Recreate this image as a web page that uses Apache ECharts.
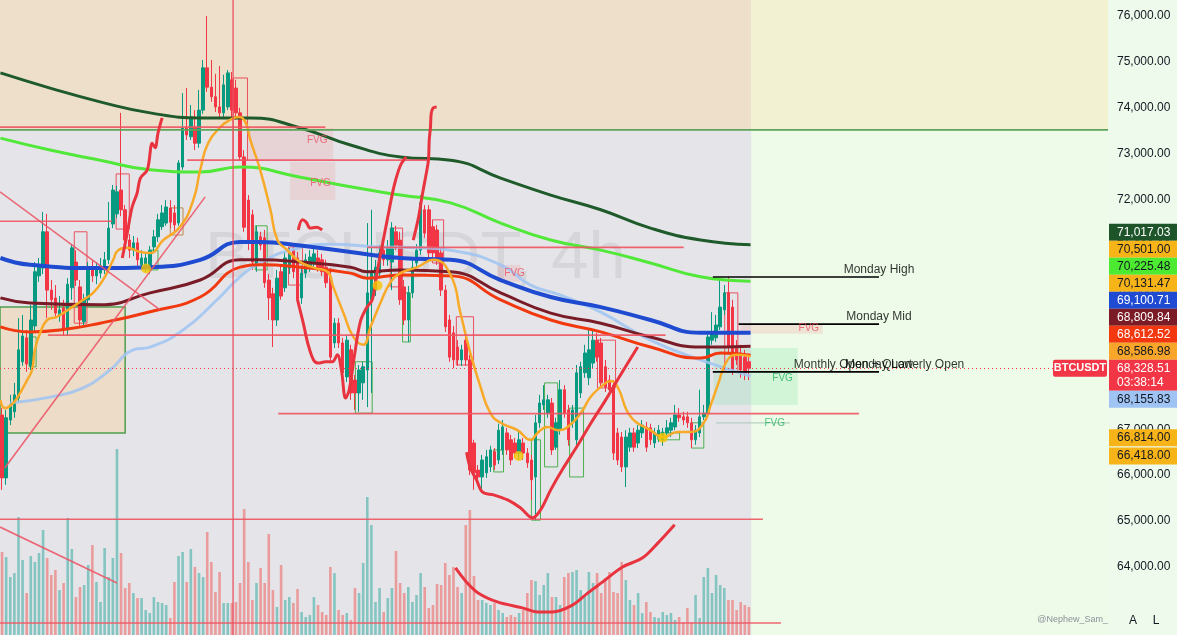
<!DOCTYPE html>
<html><head><meta charset="utf-8">
<script src="https://cdn.jsdelivr.net/npm/echarts@6/dist/echarts.min.js"></script>
<style>html,body{margin:0;padding:0;background:#eefaeb;}#c{width:1177px;height:635px;}</style>
</head><body><div id="c"></div>
<script>
// ---------------- DATA ----------------
// candles: [open, close, low, high]  (BTCUSDT 4h)
const candles = [
[67310,65940,65680,67460],[65940,67250,65790,67420],[67200,67530,67090,67750],[67380,67750,67250,68010],
[67680,68730,67590,69420],[68470,69030,68380,69490],[68990,68420,68250,69160],[68380,69380,68290,69710],
[69250,70430,69120,70640],[70340,70560,70210,70730],[70510,71300,70380,71730],[71300,70030,69420,71690],
[70030,69820,69600,70250],[69860,69530,69420,70140],[69470,69600,69340,69900],[69640,69160,69030,69820],
[69160,70160,69030,70290],[70080,70950,69820,71030],[70640,70250,70120,70900],[70100,69380,69250,70250],
[69340,69820,69210,69950],[69820,70510,69680,70640],[70510,70340,70210,70690],[70340,70510,70160,70640],
[70400,70560,70290,70730],[70470,70690,70380,70860],[70690,71380,70600,71950],[71470,72210,71380,72320],
[71690,72170,71600,72300],[72210,71780,71640,73890],[71780,71120,70990,71880],[71120,70900,70730,71250],
[70900,71060,70770,71210],[71060,70690,70560,71170],[70580,70730,70470,70900],[70510,70730,70430,70820],
[70470,70900,70380,70990],[70970,71190,70860,71340],[71190,71560,71080,71690],[71410,71710,71340,71880],
[71490,71840,71430,71990],[71820,71510,71380,71990],[71710,71450,71300,71880],[71490,72800,71430,72860],
[72710,73560,72650,74320],[73560,73410,73300,74430],[73370,73800,73300,74060],[73580,73230,73080,73950],
[73230,73950,73130,74390],[73950,74870,73870,75040],[74870,74450,74350,76000],[74450,74240,74130,75040],
[74240,74020,73910,74740],[74020,73890,73780,74910],[73890,74500,73780,74720],[74020,74760,73950,74820],
[74610,73950,73780,74780],[74430,73890,73740,74610],[73890,72930,72860,74000],[72930,71400,71300,73080],
[71990,71060,70900,72100],[71670,70640,70470,71780],[70560,71300,70430,71430],[71190,71010,70900,71300],
[71170,70190,70080,71340],[70250,69860,69380,70380],[69950,69380,68790,70080],[69380,70290,69250,70470],
[70430,69900,69820,70560],[70080,70730,69990,70860],[70510,70800,70380,70950],[70900,70430,70290,71030],
[70730,69820,69730,70860],[69860,70400,69730,70560],[70400,70690,70290,70820],[70510,70750,70430,70900],
[70600,70820,70510,70990],[70730,70510,70430,70900],[70690,70430,70340,70820],[70530,70190,70080,70690],
[70320,68570,68470,70510],[68880,69310,68770,69420],[69310,68880,68770,69420],[68880,68230,68120,68990],
[68140,68940,68030,69050],[68730,67790,67640,68840],[68070,67790,67420,68180],[67790,68290,67380,68400],
[68010,68360,67640,68470],[68290,69970,67480,71490],[69820,70400,67790,71780],[70030,70530,69900,70690],
[70400,70840,70290,71010],[70900,70690,70560,71030],[70690,70970,70560,71120],[70640,71380,70030,71510],
[71300,71010,70900,71430],[71120,69820,69710,71300],[70100,69380,69270,70250],[69380,69970,68900,70120],
[69970,70530,69860,70690],[70620,70900,70510,71030],[70900,71930,70800,72100],[71780,71270,71170,71880],
[71780,70840,70730,71880],[71410,70840,70690,71560],[71340,70690,70580,71450],[70840,70030,69900,70950],
[70030,69230,69120,70140],[69380,68570,68470,69490],[69100,68510,68330,69250],[68790,68510,68380,68940],
[68510,68730,68380,68840],[68940,68510,68380,69050],[68510,66110,66000,68620],[66700,66050,65680,66770],
[66110,65960,65790,66220],[65960,66330,65630,66440],[66050,66400,65940,66550],[66180,66550,66070,66640],
[66510,66220,66110,66590],[66330,66980,66240,67120],[66550,67050,66440,67200],[66920,66550,66440,67030],
[66770,66330,66220,66880],[66700,66480,66370,66810],[66480,66770,66330,66940],[66700,66480,66330,66810],
[66480,66270,66160,66590],[66330,65900,65460,66440],[65960,67140,65020,67310],[67140,67570,67030,67750],
[67530,67640,67420,67960],[67350,67640,67250,67750],[67570,66550,66440,67680],[66610,67140,66550,67250],
[66980,67860,66880,68070],[67860,67350,67250,67960],[67420,66770,66640,67530],[67140,67420,67030,67530],
[66770,68230,66660,68400],[67790,68360,67680,68470],[68230,68660,68120,68840],[68120,68730,67960,69160],
[68440,68940,68330,69160],[68940,68570,68470,69100],[68880,68010,67900,68990],[68360,67920,67810,68510],
[68070,67860,67720,68180],[67960,66480,66330,68070],[66920,66330,66220,67030],[66830,66180,66070,66940],
[66180,66830,65740,66980],[66610,66920,66510,67030],[66920,66610,66510,67030],[66700,66980,66590,67090],
[66920,67090,66810,67200],[67050,66610,66510,67160],[67030,66770,66660,67120],[66700,66920,66590,67030],
[66830,66980,66720,67090],[66770,66940,66640,67030],[66920,67030,66810,67200],[66980,67140,66830,67250],
[67050,67310,66980,67530],[67310,67250,67160,67460],[67270,67200,67090,67380],[67270,67140,67030,67380],
[67140,66770,66590,67250],[66770,66980,66660,67090],[66920,67270,66830,67860],[67270,67350,67200,67530],
[67350,69010,67250,69100],[68940,69100,68840,69550],[68990,69270,68900,69490],[69230,69660,69160,70250],
[69600,69970,69490,70140],[69970,68790,68680,70320],[69660,68290,68180,69820],[68790,68510,68400,68940],
[68660,68290,68120,68840],[68570,68230,68070,68730],[68470,68328.51,68070,68620]
];
const volumes = [
83,78,58,62,118,75,42,79,73,82,105,77,60,65,45,52,117,86,38,48,50,70,90,53,33,87,58,77,186,82,
47,52,42,37,37,25,22,38,33,32,30,17,53,79,83,53,86,68,62,58,103,73,43,63,32,32,32,33,52,126,
73,35,52,67,52,101,45,28,70,35,38,32,46,23,18,20,38,30,23,20,68,62,25,20,22,15,47,42,72,138,
110,33,47,23,37,47,84,52,42,48,33,40,62,48,27,30,51,50,72,60,68,48,42,110,125,59,35,35,32,30,
32,25,22,18,20,18,22,25,42,55,54,40,50,62,38,38,30,58,62,63,65,45,40,63,52,62,42,57,63,43,
42,73,55,35,30,42,22,33,23,18,17,23,20,22,15,18,13,27,13,40,17,58,67,42,60,50,47,35,35,25,
33,30,28
];
// moving averages: [bar index, price]
const maDarkGreen = [[-0.4,74760],[11.7,74430],[23.9,74130],[36.1,73890],[48.3,73780],[60.5,73780],[72.7,73560],[84.9,73190],[97.1,72930],[109.3,72860],[121.5,72470],[133.7,72100],[145.9,71780],[158,71380],[170.2,71120],[182.4,71017.03]];
const maLime = [[-0.4,73340],[11.7,73080],[23.9,72860],[36.1,72650],[48.3,72600],[58,72710],[72.7,72490],[84.9,72280],[97.1,72100],[109.3,71930],[121.5,71490],[133.7,71120],[145.9,70900],[158,70620],[170.2,70320],[182.4,70225.48]];
const maBlue = [[-0.4,70730],[6.8,70580],[23.9,70510],[36.1,70530],[48.3,70690],[58,71080],[62.9,71080],[72.7,71000],[84.9,70860],[97.1,70730],[109.3,70690],[121.5,70250],[133.7,69880],[145.9,69660],[158,69380],[170.2,69100],[182.4,69100.71]];
const maMaroon = [[-0.4,69860],[6.8,69750],[23.9,69710],[36.1,69970],[48.3,70250],[58,70690],[62.9,70690],[72.7,70640],[84.9,70530],[89,70430],[97.1,70470],[109.3,70430],[121.5,69970],[133.7,69530],[145.9,69310],[158,69010],[170.2,68790],[182.4,68809.84]];
const maRed = [[-0.4,69230],[6.8,69120],[14.1,69160],[23.9,69310],[36.1,69560],[48.3,69880],[58,70530],[62.9,70580],[72.7,70530],[84.9,70400],[89,70290],[97.1,70360],[109.3,70340],[121.5,69820],[133.7,69380],[145.9,69120],[158,68790],[170.2,68550],[175.1,68660],[182.4,68612.52]];
const maLightBlue = [[2,67570],[11.7,67700],[19.8,67900],[26.3,68290],[32,68730],[36.1,68790],[44.1,69160],[52.4,69820],[58,70320],[62.9,70620],[70.2,70900],[80,71030],[92.2,70970],[102,70950],[109.3,70900],[121.5,70580],[128.8,70140],[136.1,69920],[145.9,69550],[158,68940],[170.2,68510],[182.4,68155.83]];
const maOrange = [[-0.4,67640],[0.7,67460],[2.7,67570],[4.4,67790],[6.1,68070],[7.3,68290],[8,68730],[9.3,69100],[11,69380],[13.4,69450],[17.1,69660],[19.8,69820],[22.2,69970],[24.6,70250],[27.1,70690],[28.3,70900],[30.5,70950],[33.7,70860],[36.1,70840],[39.3,71120],[43.4,71410],[46.6,71990],[48.3,72650],[50.2,73230],[53.2,73580],[55.6,73740],[57.6,73800],[59.3,73690],[60.5,73300],[62.9,72650],[65.4,71780],[67.1,71120],[69.5,70900],[72.7,70640],[76.3,70510],[79.3,70430],[80.7,70100],[83.2,69530],[85.6,69010],[88,68840],[89.8,69230],[92.2,69750],[94.6,70190],[97.1,70400],[101.2,70530],[105.1,70690],[109.3,70360],[111.7,69530],[114.1,68660],[116.6,67920],[119,67350],[121.5,67140],[125.6,66980],[128.8,66770],[130.5,66920],[132.9,67050],[135.4,66980],[137.8,67050],[141,67350],[143.4,67700],[145.9,67920],[148.3,68050],[150,67920],[153.2,67270],[158,66980],[161.2,66830],[164.6,66940],[167.8,66940],[171,67140],[172.7,67530],[174.4,67960],[176.8,68510],[179.3,68620],[182.4,68586.98]];
// pivot dots
const pivotDots = [[35.1,70501.00],[91.5,70131.47],[125.9,66418.00],[161,66814.00]];
// hand drawn curves [bar index, price]
const drawCurveA = [[29.3,70730],[30.5,71270],[31.7,71840],[32.9,72140],[33.7,72470],[35.4,72650],[36.6,73230],[37.3,73130],[38,73450],[39,73780]];
const drawCurveB = [[72.2,71340],[73.2,71560],[74.1,71510],[75.1,71380],[76.6,71400],[78,71340]];
const drawCurveC = [[72,69820],[73.4,69310],[74.6,68840],[75.9,68510],[77.1,68440],[78.8,68470],[80.5,68470],[81.7,68620],[82.7,68290],[83.7,67680],[84.6,67860],[85.9,68620],[87.3,69340],[88.8,69640],[90.2,69820],[91.5,70470],[92.9,71120],[94.1,71670],[95.6,72320],[97.1,72750],[98.5,72930]];
const drawCurveD = [[100.2,71120],[101.5,71620],[102.4,72100],[103.2,72490],[103.9,72860],[104.1,73300],[104.4,73580],[104.6,73890],[105.1,74000],[105.9,74020]];
const drawCurveE = [[113.2,66500],[114.1,66160],[115.6,65900],[117.1,65630],[119.8,65570],[123.2,65460],[126.3,65290],[129.3,65070],[131.2,65240],[133.7,65680],[136.8,66160],[140.2,66640],[143.4,67120],[147.1,67640],[150.7,68180],[154.9,68790]];
const drawCurveF = [[110.5,63980],[113.2,63670],[116.1,63430],[120.7,63240],[126.8,63110],[130.5,63020],[134.1,63020],[139,63170],[142.7,63430],[146.3,63670],[151.2,64000],[156.1,64200],[159.8,64520],[163.9,64920]];
// trend lines [[x0,p0],[x1,p1]]
const trendLines = [[[-0.5,72170],[38.5,69600]],[[-0.5,64870],[28,63650]],[[0.7,66160],[49.5,72060]]];
// horizontal levels: [price, fromBar, toBar]
const redLevels = [[73580,-0.5,78.8],[72860,45.1,103.7],[71530,-0.5,26.8],[70960,89,166.1],[69050,11.2,161.7],[67340,67.3,208.8],[65040,-0.5,185.4],[62780,-0.5,189.8]];
const greenLevel = [73520,-0.5,269.5];
const verticalLineBar = 56.3;
// Monday / Monthly levels
const levelNames = ['Monday High','Monday Mid','Monday Low','Monthly Open + Quarterly Open'];
const levelPrices = [70316,69290,68250,68250];
const levelFrom = [173.2,179.5,173.2,173.2];
const levelTo = 213.7;
// order blocks: [bar0, priceTop, bar1, priceBottom]
const boxes = [[6.6,69010,8.3,68360],[27.8,72560,31,71360],[17.6,71300,20.7,69310],[36.1,70900,38,70470],[41,71820,44.1,71230],[56.3,74650,59.8,72860],[61.7,71430,64.6,70470],[69.8,70970,73.2,70140],[86.1,68470,90.2,67350],[94.6,71380,97.6,70100],[97.6,69970,99.5,68900],[104.9,71560,107.6,70620],[110.7,69450,114.9,68400],[119.8,66550,122.2,66070],[129,66770,131.2,65020],[132.2,68010,135.4,66180],[138.3,67460,141.7,65960],[145.1,68940,149.5,67900],[159.8,66920,165.1,66770],[168,67140,171,66590],[176.1,69970,179.3,68250]];
const boxKinds = ['g','r','r','g','b','r','g','r','g','r','g','r','r','g','g','g','g','r','g','g','r'];
const demandZone = [-0.5,69660,30,66920];
// FVG zones
const fvgBear = [[59.8,73560,80.7,72860],[70.2,72820,81.2,71990],[120.7,70580,126.3,70210],[180,69270,200,69080]];
const fvgBull = [[173.4,68770,193.9,67530]];
const fvgLabelsRed = [[76.8,73300],[77.6,72360],[124.9,70400],[196.6,69190]];
const fvgLabelsGreen = [[190.2,68120],[188.3,67140]];
const fvgThin = [[174,67140],[192,67140]];
// price scale
const priceTicks = [64000,65000,66000,67000,68000,69000,70000,71000,72000,73000,74000,75000,76000];
const lastPrice = 68328.51;
const countdown = '03:38:14';
const tagValues = [71017.03,70501.00,70225.48,70131.47,69100.71,68809.84,68612.52,68586.98,68328.51,68155.83,66814.00,66418.00];
const tagBg = ['#1d5429','#f7b418','#4cea30','#f7b418','#1f4bd3','#7a1b25','#f3380f','#f7a62a','#f23645','#9fc3f3','#f7b418','#f7b418'];
const tagFg = ['#ffffff','#131722','#131722','#131722','#ffffff','#ffffff','#ffffff','#131722','#ffffff','#131722','#131722','#131722'];
const LAST_TAG = 8;

// ---------------- CHART ----------------
const SLOTS = 270;
const categories = Array.from({length: SLOTS}, (_, i) => String(i));
const P_MIN = 62519, P_MAX = 76348;
const SPLIT_X = 182.6, SPLIT_P = 73520;
const FONT = "'Liberation Sans', Arial, sans-serif";
const chart = echarts.init(document.getElementById('c'));

function area(b, style){ return [{coord:[b[0],b[1]], itemStyle: style},{coord:[b[2],b[3]]}]; }
function line(data, color, width, z, smooth, extra){
  return Object.assign({type:'line', xAxisIndex:1, yAxisIndex:0, data, symbol:'none', smooth: smooth||false,
    lineStyle:{color, width}, z, silent:true, animation:false}, extra||{});
}
const boxColor = {g:'#4caf50', r:'#e8505e', b:'#c2884a'};
const HIDDEN = 'rgba(0,0,0,0)';

const series = [];
// background zones
series.push({type:'line', xAxisIndex:1, yAxisIndex:0, data:[], z:0, silent:true,
  markArea:{silent:true, data:[
    area([-0.5,P_MAX,SPLIT_X,SPLIT_P],{color:'#eedfca'}),
    area([SPLIT_X,P_MAX,269.5,SPLIT_P],{color:'#f2f2d3'}),
    area([-0.5,SPLIT_P,SPLIT_X,P_MIN],{color:'#e5e5e9'}),
    area([SPLIT_X,SPLIT_P,269.5,P_MIN],{color:'#edfbe8'}),
    area(demandZone,{color:'#ecdcc8', borderColor:'#4e9e4e', borderWidth:1.5}),
    ...fvgBear.map(b=>area(b,{color:'rgba(242,110,120,0.16)'})),
    ...fvgBull.map(b=>area(b,{color:'rgba(90,220,140,0.18)'}))
  ]}});
// volume
series.push({type:'bar', xAxisIndex:0, yAxisIndex:1, data: volumes, barWidth:2.6, z:1, silent:true,
  itemStyle:{color: p => { const c = candles[p.dataIndex]; return (c && c[1] >= c[0]) ? 'rgba(38,166,154,0.5)' : 'rgba(239,83,80,0.5)'; }}});
// candles
series.push({type:'candlestick', xAxisIndex:0, yAxisIndex:0, data: candles, barWidth:3, z:2, silent:true,
  itemStyle:{color:'#089981', color0:'#f23645', borderColor:'#089981', borderColor0:'#f23645', borderWidth:1},
  markLine:{silent:true, symbol:'none', label:{show:false}, lineStyle:{color:'#f23645', type:[1,3], width:1},
    data:[{yAxis:lastPrice}]}});
// boxes
series.push({type:'line', xAxisIndex:1, yAxisIndex:0, data:[], z:3, silent:true,
  markArea:{silent:true, data: boxes.map((b,k)=>area(b,{color:HIDDEN, borderColor: boxColor[boxKinds[k]], borderWidth:1}))}});
// moving averages
series.push(line(maLightBlue,'rgba(160,196,242,0.85)',3,4,true));
series.push(line(maDarkGreen,'#1e5a2a',3,4,true));
series.push(line(maLime,'#52e83a',3,4,true));
series.push(line(maRed,'#f1380f',3,4,true));
series.push(line(maMaroon,'#7a1c27',3,4,true));
series.push(line(maBlue,'#1f4bd1',4,4,true));
series.push(line(maOrange,'#f8a928',2.5,4,true));
// levels
redLevels.forEach(l => series.push(line([[l[1],l[0]],[l[2],l[0]]],'rgba(238,84,98,0.9)',1.6,5)));
series.push(line([[greenLevel[1],greenLevel[0]],[greenLevel[2],greenLevel[0]]],'#5ea35b',1.8,5));
series.push(line([[verticalLineBar,P_MIN],[verticalLineBar,P_MAX]],'rgba(235,80,95,0.85)',1.5,5));
trendLines.forEach(t => series.push(line(t,'rgba(236,88,104,0.9)',1.6,5)));
series.push(line(fvgThin,'rgba(170,200,185,0.8)',1.2,5));
levelPrices.slice(0,3).forEach((p,k)=>series.push(line([[levelFrom[k],p],[levelTo,p]],'#000000',1.6,6)));
// hand drawn
[drawCurveA,drawCurveB,drawCurveC,drawCurveD,drawCurveE,drawCurveF].forEach(d=>series.push(line(d,'#e8343f',3,6,0.35)));
// pivot dots
series.push({type:'scatter', xAxisIndex:1, yAxisIndex:0, data: pivotDots, symbolSize:10, z:7, silent:true,
  itemStyle:{color:'#f6c500'}});
// level labels
series.push({type:'scatter', xAxisIndex:1, yAxisIndex:0, data: levelPrices.map(p=>[levelTo,p]), symbolSize:1, z:8, silent:true,
  itemStyle:{color:HIDDEN},
  label:{show:true, position:'top', distance:1, color:'#000000', fontSize:12, fontFamily:FONT, textBorderWidth:0, formatter: p => levelNames[p.dataIndex]}});
// FVG labels
series.push({type:'scatter', xAxisIndex:1, yAxisIndex:0, data: fvgLabelsRed, symbolSize:1, z:8, silent:true, itemStyle:{color:HIDDEN},
  label:{show:true, position:'inside', color:'#ee4f62', fontSize:10, fontFamily:FONT, textBorderWidth:0, formatter:'FVG'}});
series.push({type:'scatter', xAxisIndex:1, yAxisIndex:0, data: fvgLabelsGreen, symbolSize:1, z:8, silent:true, itemStyle:{color:HIDDEN},
  label:{show:true, position:'inside', color:'#22b35e', fontSize:10, fontFamily:FONT, textBorderWidth:0, formatter:'FVG'}});

chart.setOption({
  animation:false,
  backgroundColor:'#eefaeb',
  grid:{left:0, right:69, top:0, bottom:0},
  xAxis:[
    {type:'category', data: categories, show:false, boundaryGap:true},
    {type:'value', min:-0.5, max:SLOTS-0.5, show:false}
  ],
  yAxis:[
    {type:'value', position:'right', min:P_MIN, max:P_MAX, splitLine:{show:false}, axisLine:{show:false}, axisTick:{show:false},
      axisLabel:{customValues: priceTicks, color:'#131722', fontSize:12, fontFamily:FONT, margin:9,
        formatter: v => v.toLocaleString('en-US',{minimumFractionDigits:2, maximumFractionDigits:2})}},
    {type:'value', min:0, max:635, show:false}
  ],
  series
});

// ---- price scale tags: last-price tag stays at its price, the others are pushed away from it ----
const items = tagValues.map((v,k)=>({k, y: chart.convertToPixel({yAxisIndex:0}, v), up:8.5, down: k===LAST_TAG ? 22.5 : 8.5}));
items.sort((a,b)=>a.y-b.y);
const pIdx = items.findIndex(it=>it.k===LAST_TAG);
for (let j=pIdx-1; j>=0; j--){ const below = items[j+1]; items[j].y = Math.min(items[j].y, below.y - below.up - items[j].down); }
for (let j=pIdx+1; j<items.length; j++){ const above = items[j-1]; items[j].y = Math.max(items[j].y, above.y + above.down + items[j].up); }

const gx = 1109;
const graphics = [
  {type:'text', left:205, top:226, z:1, silent:true, style:{text:'BTCUSDT, 4h', font:"67px "+FONT, fill:'rgba(110,110,125,0.13)'}}
];
items.forEach(it=>{
  const k = it.k;
  graphics.push({type:'rect', z:100, silent:true, shape:{x:gx, y:it.y-it.up, width:68, height:it.up+it.down}, style:{fill:tagBg[k]}});
  graphics.push({type:'text', z:101, silent:true, style:{x:gx+8, y:it.y, text: tagValues[k].toLocaleString('en-US',{minimumFractionDigits:2}), font:"12px "+FONT, fill:tagFg[k], verticalAlign:'middle'}});
  if (k===LAST_TAG){
    graphics.push({type:'text', z:101, silent:true, style:{x:gx+8, y:it.y+14, text: countdown, font:"12px "+FONT, fill:tagFg[k], verticalAlign:'middle'}});
    graphics.push({type:'rect', z:100, silent:true, shape:{x:1053, y:it.y-it.up, width:54, height:17, r:2}, style:{fill:'#f23645'}});
    graphics.push({type:'text', z:101, silent:true, style:{x:1080, y:it.y, text:'BTCUSDT', font:"bold 11px "+FONT, fill:'#ffffff', align:'center', verticalAlign:'middle'}});
  }
});
graphics.push({type:'text', z:101, silent:true, style:{x:1108, y:620, text:'@Nephew_Sam_', font:"9px "+FONT, fill:'#8d909a', align:'right', verticalAlign:'middle'}});
graphics.push({type:'text', z:101, silent:true, style:{x:1133, y:621, text:'A', font:"12px "+FONT, fill:'#131722', align:'center', verticalAlign:'middle'}});
graphics.push({type:'text', z:101, silent:true, style:{x:1156, y:621, text:'L', font:"12px "+FONT, fill:'#131722', align:'center', verticalAlign:'middle'}});
chart.setOption({graphic: graphics});
</script>
</body></html>
